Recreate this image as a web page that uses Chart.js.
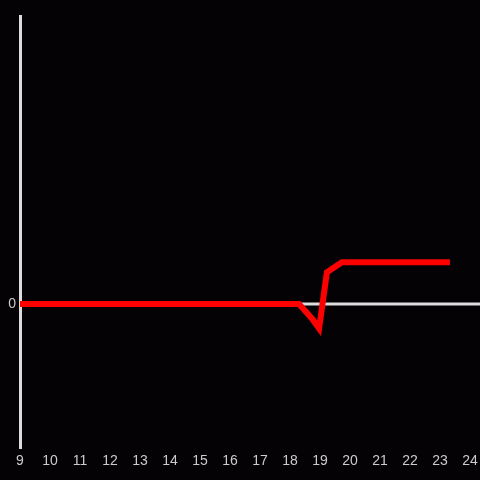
<!DOCTYPE html>
<html>
<head>
<meta charset="utf-8">
<script src="https://cdn.jsdelivr.net/npm/chart.js@4"></script>
<style>
  html, body { margin: 0; padding: 0; background: #040205; }
  #wrap { width: 480px; height: 480px; }
</style>
</head>
<body>
<div id="wrap"><canvas id="chart"></canvas></div>
<script>
// hour of day and value
const hours = [9, 18.3, 18.73, 18.97, 19.23, 19.73, 23.33];
const values = [0, 0, -10, -17, 22, 29, 29];

const xMin = 9;
const xMax = 24;
const yMin = -100;
const yMax = 200;

const axisColor = "#dcdcdc";
const labelColor = "#cccccc";

// zero line runs out to the right edge of the canvas
const zeroLine = {
  id: "zeroLine",
  beforeDatasetsDraw(chart) {
    const ctx = chart.ctx;
    const y = chart.scales.y.getPixelForValue(0);
    ctx.save();
    ctx.strokeStyle = axisColor;
    ctx.lineWidth = 3;
    ctx.beginPath();
    ctx.moveTo(chart.chartArea.left, y);
    ctx.lineTo(chart.width, y);
    ctx.stroke();
    ctx.restore();
  },
};

new Chart(document.getElementById("chart").getContext("2d"), {
  type: "line",
  data: {
    datasets: [
      {
        data: hours.map((h, i) => ({ x: h, y: values[i] })),
        borderColor: "#ff0000",
        borderWidth: 6,
        borderCapStyle: "butt",
        borderJoinStyle: "miter",
        tension: 0,
        pointRadius: 0,
        fill: false,
      },
    ],
  },
  options: {
    responsive: true,
    maintainAspectRatio: false,
    animation: false,
    layout: { padding: { top: 16, right: 0, left: 0, bottom: 0 } },
    plugins: { legend: { display: false }, tooltip: { enabled: false } },
    scales: {
      x: {
        type: "linear",
        min: xMin,
        max: xMax,
        ticks: {
          stepSize: 1,
          color: labelColor,
          font: { family: "Liberation Sans, Arial, sans-serif", size: 14 },
          padding: 5,
          maxRotation: 0,
        },
        grid: { display: false, drawTicks: false },
        border: { display: false },
        afterFit: (s) => { s.height = 32; s.paddingRight = 10; },
      },
      y: {
        min: yMin,
        max: yMax,
        ticks: {
          stepSize: 100,
          color: labelColor,
          font: { family: "Liberation Sans, Arial, sans-serif", size: 14 },
          padding: 4,
          callback: (v) => (v === 0 ? "0" : ""),
        },
        grid: { display: false, drawTicks: false },
        border: { display: true, color: axisColor, width: 3 },
        afterFit: (s) => { s.width = 20; },
      },
    },
  },
  plugins: [zeroLine],
});
</script>
</body>
</html>
